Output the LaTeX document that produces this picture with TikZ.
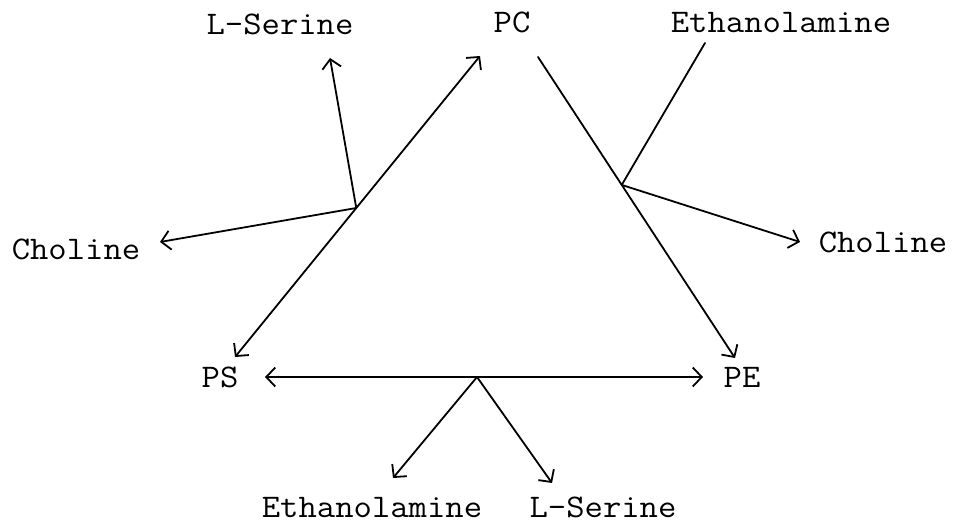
\documentclass[tikz,border=0pt]{standalone}
\usepackage{fontspec}
\usepackage{graphicx}
\usetikzlibrary{arrows.meta,calc}
\newcommand\twt[1]{\scalebox{1.08}[1]{#1}}
\tikzset{
  lbl/.style={anchor=base,inner sep=0pt,font=\fontsize{33}{33}\selectfont\ttfamily},
  conn/.style={line width=1.8pt,line cap=round,line join=round},
  barb/.tip={Straight Barb[length=9pt,width=19pt,line width=1.8pt]},
  tip/.style={-barb},
  tips/.style={barb-barb}
}
\begin{document}
\begin{tikzpicture}[x=1pt,y=1pt]
\useasboundingbox (0,0) rectangle (957,527);
% labels
\node[lbl] (serT) at (280,492) {\twt{L-Serine}};
\node[lbl] (pc) at (512,494) {\twt{PC}};
\node[lbl] (ethT) at (781,494) {\twt{Ethanolamine}};
\node[lbl] (choL) at (76,267) {\twt{Choline}};
\node[lbl] (choR) at (883,274) {\twt{Choline}};
\node[lbl] (ps) at (220,139) {\twt{PS}};
\node[lbl] (pe) at (742,139) {\twt{PE}};
\node[lbl] (ethB) at (372,10) {\twt{Ethanolamine}};
\node[lbl] (serB) at (603,10) {\twt{L-Serine}};
% end points
\coordinate (pcA) at (480,471);
\coordinate (psA) at (235,170);
\coordinate (serA) at (330,469);
\coordinate (choA) at (160,285);
\coordinate (pcB) at (538,470);
\coordinate (peA) at (735,169);
\coordinate (ethA) at (705,484);
\coordinate (choB) at (800,285);
\coordinate (psB) at (265,150);
\coordinate (peB) at (703,150);
\coordinate (ethC) at (393,49);
\coordinate (serC) at (552,44);
\coordinate (j1) at ($(psA)!0.495!(pcA)$);
\coordinate (j2) at ($(pcB)!0.425!(peA)$);
\coordinate (j3) at (477,150);
% PS <-> PC with branch
\draw[conn,tips] (psA) -- (pcA);
\draw[conn,tip] (j1) -- (serA);
\draw[conn,tip] (j1) -- (choA);
% PC -> PE with branch
\draw[conn,tip] (pcB) -- (peA);
\draw[conn] (ethA) -- (j2);
\draw[conn,tip] (j2) -- (choB);
% PS <-> PE with branch
\draw[conn,tips] (psB) -- (peB);
\draw[conn,tip] (j3) -- (ethC);
\draw[conn,tip] (j3) -- (serC);
\end{tikzpicture}
\end{document}
